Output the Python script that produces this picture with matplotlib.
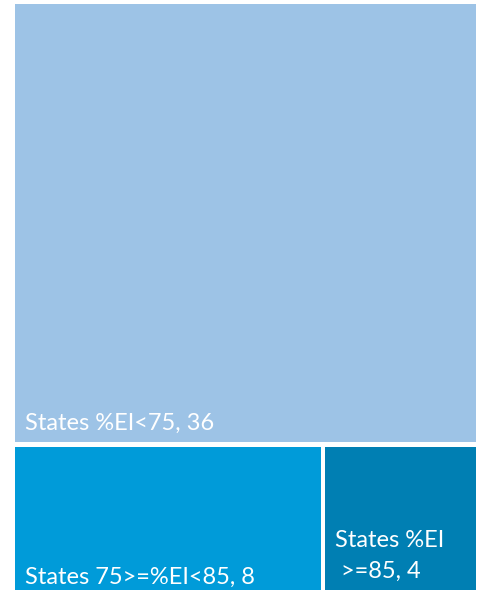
import matplotlib
matplotlib.use("Agg")
import matplotlib.pyplot as plt
from matplotlib.patches import Rectangle

# ── Data ─────────────────────────────────────────────
labels = ["States %EI<75, 36", "States 75>=%EI<85, 8", "States %EI\n >=85, 4"]
values = [36, 8, 4]
colors = ["#9DC3E6", "#009BD9", "#007FB3"]

plt.rcParams["font.family"] = ["Lato", "DejaVu Sans"]

fig = plt.figure(figsize=(4.81, 5.90), dpi=100)
ax = fig.add_axes([0, 0, 1, 1])
ax.set_xlim(0, 481)
ax.set_ylim(590, 0)
ax.axis("off")

# outer area (pixels) and gap between tiles
gap = 4.5
x0, x1 = 15 - gap / 2, 476 + gap / 2
y0, y1 = 4 - gap / 2, 590 + gap / 2
total = sum(values)

# top tile: biggest value spans the full width
y_split = y0 + (y1 - y0) * values[0] / total
# bottom row: remaining values split by width
bottom_total = values[1] + values[2]
x_split = x0 + (x1 - x0) * values[1] / bottom_total

tiles = [
    (x0, y0, x1, y_split),
    (x0, y_split, x_split, y1),
    (x_split, y_split, x1, y1),
]

for (a, b, c, d), col in zip(tiles, colors):
    ax.add_patch(Rectangle((a + gap / 2, b + gap / 2), c - a - gap, d - b - gap,
                           facecolor=col, edgecolor="none"))

fs = 17
ax.text(tiles[0][0] + 12, tiles[0][3] - 15, labels[0], color="white",
        fontsize=fs, ha="left", va="baseline")
ax.text(tiles[1][0] + 12, 584, labels[1], color="white",
        fontsize=fs, ha="left", va="baseline")
ax.text(tiles[2][0] + 12, 578, labels[2], color="white",
        fontsize=fs, ha="left", va="baseline", linespacing=1.6)

fig.savefig("out.png", dpi=100)
